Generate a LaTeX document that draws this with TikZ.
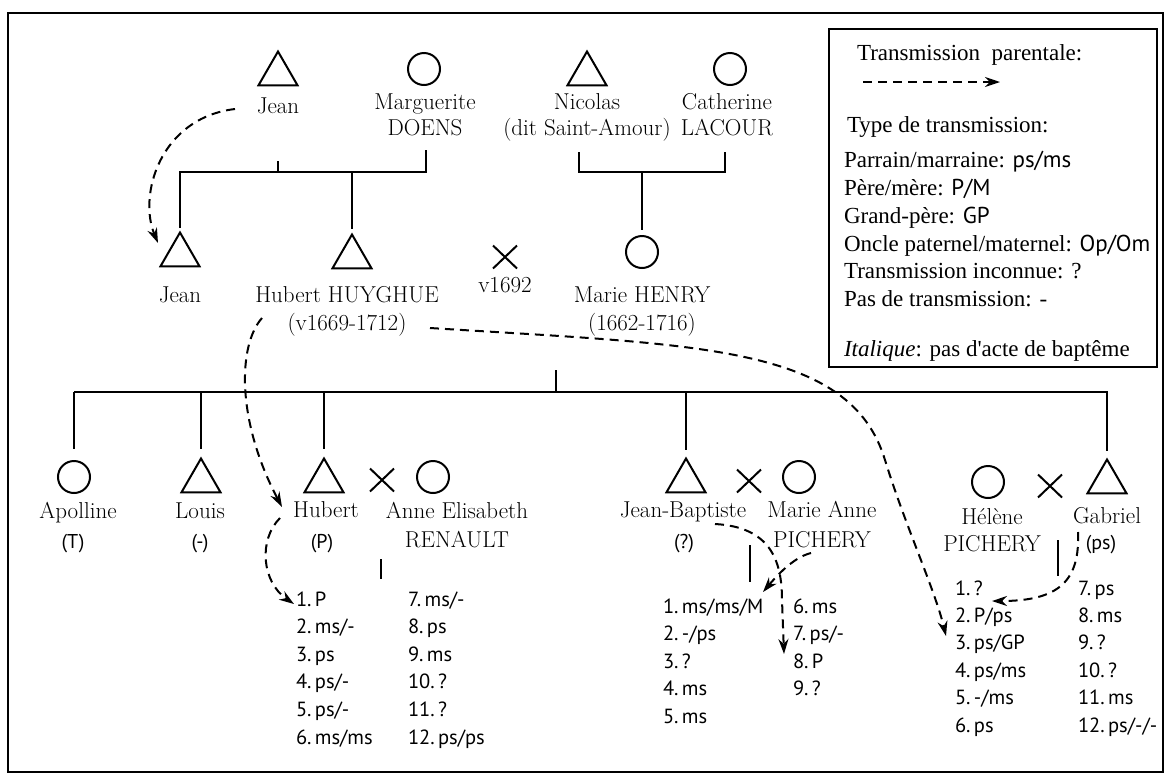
\documentclass[tikz,border=0pt]{standalone}
\usepackage{fontspec}
\newfontfamily\legfont{Liberation Serif}
\newfontfamily\sansf{PT Sans}
\usetikzlibrary{shapes.geometric,shapes.misc,arrows.meta}
\begin{document}
\begin{tikzpicture}[x=1pt,y=-1pt,
  every node/.style={inner sep=0pt, outer sep=0pt},
  tri/.style={draw, regular polygon, regular polygon sides=3, minimum size=45pt, line width=2pt},
  fem/.style={draw, circle, minimum size=32pt, line width=2pt},
  mar/.style={draw, cross out, minimum width=24pt, minimum height=23pt, line width=2pt},
  nm/.style={font=\fontsize{23}{25}\selectfont, anchor=base},
  sub/.style={font=\sansf\fontsize{20}{25}\selectfont, anchor=base},
  lst/.style={font=\sansf\fontsize{20.5}{27}\selectfont, anchor=base west},
  leg/.style={font=\legfont\fontsize{23}{27}\selectfont, anchor=base west},
  line/.style={line width=2pt},
  trans/.style={line width=2pt, dash pattern=on 9pt off 6pt, -{Stealth[length=15pt,width=10pt]}},
]
\useasboundingbox (0,0) rectangle (1170,780);
% frame
\coordinate (fA) at (8,13); \coordinate (fB) at (1163,772);
\draw[line width=2.4pt] (fA) rectangle (fB);

% legend
\coordinate (lA) at (829,29); \coordinate (lB) at (1157,367);
\draw[line width=2pt] (lA) rectangle (lB);
\node[leg] (l1) at (857,60) {Transmission\ \ parentale:};
\coordinate (la) at (863,82); \coordinate (lb) at (1000,82);
\draw[trans] (la) -- (lb);
\node[leg] (l2) at (847,132) {Type de transmission:};
\node[leg] (l3) at (844,167) {Parrain/marraine: {\sansf ps/ms}};
\node[leg] (l4) at (844,195) {Père/mère: {\sansf P/M}};
\node[leg] (l5) at (844,223) {Grand-père: {\sansf GP}};
\node[leg] (l6) at (844,251) {Oncle paternel/maternel: {\sansf Op/Om}};
\node[leg] (l7) at (844,278) {Transmission inconnue: ?};
\node[leg] (l8) at (844,306) {Pas de transmission: -};
\node[leg] (l9) at (844,356) {\textit{Italique}: pas d\textquotesingle acte de baptême};

% generation 1
\node[tri] (jean1) at (278,74) {};
\node[nm] (jean1n) at (278,113) {Jean};
\node[fem] (marg) at (424,69) {};
\node[nm] (margn) at (425,109) {Marguerite};
\node[nm] (margn2) at (425,135) {DOENS};
\node[tri] (nico) at (587,74) {};
\node[nm] (nicon) at (587,109) {Nicolas};
\node[nm] (nicon2) at (587,135) {(dit Saint-Amour)};
\node[fem] (cath) at (730,69) {};
\node[nm] (cathn) at (727,109) {Catherine};
\node[nm] (cathn2) at (727,135) {LACOUR};

% generation 2
\node[tri] (jean2) at (180,255) {};
\node[nm] (jean2n) at (180,302) {Jean};
\node[tri] (hub) at (352,257) {};
\node[nm] (hubn) at (347,302) {Hubert HUYGHUE};
\node[nm] (hubn2) at (347,330) {(v1669-1712)};
\node[mar] (x1) at (505,257) {};
\node[nm] (x1n) at (505,292) {v1692};
\node[fem] (henry) at (642,252) {};
\node[nm] (henryn) at (642,302) {Marie HENRY};
\node[nm] (henryn2) at (642,330) {(1662-1716)};

% gen1 connectors
\coordinate (m1) at (278,161); \coordinate (m1r) at (426,150);
\coordinate (b1L) at (180,172); \coordinate (b1R) at (426,172);
\draw[line] (m1) -- (m1 |- b1L);
\draw[line] (m1r) -- (b1R) -- (b1L) -- ([yshift=5pt]jean2.north);
\draw[line] (b1L -| hub.north) -- ([yshift=6pt]hub.north);
\coordinate (nc1) at (579,152); \coordinate (nc2) at (725,152);
\coordinate (b2L) at (579,172); \coordinate (b2R) at (725,172);
\draw[line] (nc1) -- (b2L) -- (b2R) -- (nc2);
\draw[line] (henry.north |- b2L) -- ([yshift=6pt]henry.north);

% generation 3
\node[fem] (apo) at (74,477) {};
\node[nm] (apon) at (78,518) {Apolline};
\node[sub] (apos) at (73,548) {(T)};
\node[tri] (louis) at (201,481) {};
\node[nm] (louisn) at (200,518) {Louis};
\node[sub] (louiss) at (200,548) {(-)};
\node[tri] (hub3) at (324,481) {};
\node[nm] (hub3n) at (326,517) {Hubert};
\node[sub] (hub3s) at (322,548) {(P)};
\node[mar] (x2) at (382,480) {};
\node[fem] (anne) at (433,477) {};
\node[nm] (annen) at (457,518) {Anne Elisabeth};
\node[nm] (annen2) at (457,547) {RENAULT};
\coordinate (k2a) at (381,559); \coordinate (k2b) at (381,579);
\draw[line] (k2a) -- (k2b);

\node[tri] (jb) at (686,481) {};
\node[nm] (jbn) at (683,517) {Jean-Baptiste};
\node[sub] (jbs) at (684,548) {(?)};
\node[mar] (x3) at (749,481) {};
\node[fem] (ma) at (799,477) {};
\node[nm] (man) at (822,517) {Marie Anne};
\node[nm] (man2) at (822,547) {PICHERY};
\coordinate (k3a) at (750,545); \coordinate (k3b) at (750,582);
\draw[line] (k3a) -- (k3b);

\node[fem] (hel) at (988,482) {};
\node[nm] (heln) at (992,524) {Hélène};
\node[nm] (heln2) at (992,551) {PICHERY};
\node[mar] (x4) at (1050,486) {};
\node[tri] (gab) at (1107,482) {};
\node[nm] (gabn) at (1107,523) {Gabriel};
\node[sub] (gabs) at (1101,549) {(ps)};
\coordinate (k4a) at (1058,540); \coordinate (k4b) at (1058,576);
\draw[line] (k4a) -- (k4b);

% gen2 -> gen3 connectors
\coordinate (m2) at (556,370);
\coordinate (b3L) at (74,392); \coordinate (b3R) at (1108,392);
\draw[line] (m2) -- (m2 |- b3L);
\draw[line] (b3L) -- (b3R);
\draw[line] (apo.north |- b3L) -- ([yshift=12pt]apo.north);
\draw[line] (louis.north |- b3L) -- ([yshift=10pt]louis.north);
\draw[line] (hub3.north |- b3L) -- ([yshift=10pt]hub3.north);
\draw[line] (jb.north |- b3L) -- ([yshift=9pt]jb.north);
\draw[line] (gab.north |- b3L) -- ([yshift=9pt]gab.north);

% lists
\foreach \t [count=\i] in {{1.\,P},{2.\,ms/-},{3.\,ps},{4.\,ps/-},{5.\,ps/-},{6.\,ms/ms}}
  \node[lst] (hA\i) at (296,{606+(\i-1)*27.6}) {\t};
\foreach \t [count=\i] in {{7.\,ms/-},{8.\,ps},{9.\,ms},{10.\,?},{11.\,?},{12.\,ps/ps}}
  \node[lst] (hB\i) at (408,{606+(\i-1)*27.6}) {\t};
\foreach \t [count=\i] in {{1.\,ms/ms/M},{2.\,-/ps},{3.\,?},{4.\,ms},{5.\,ms}}
  \node[lst] (jA\i) at (663,{613+(\i-1)*27.5}) {\t};
\foreach \t [count=\i] in {{6.\,ms},{7.\,ps/-},{8.\,P},{9.\,?}}
  \node[lst] (jB\i) at (793,{613+(\i-1)*27.5}) {\t};
\foreach \t [count=\i] in {{1.\,?},{2.\,P/ps},{3.\,ps/GP},{4.\,ps/ms},{5.\,-/ms},{6.\,ps}}
  \node[lst] (gA\i) at (955,{595+(\i-1)*27.4}) {\t};
\foreach \t [count=\i] in {{7.\,ps},{8.\,ms},{9.\,?},{10.\,?},{11.\,ms},{12.\,ps/-/-}}
  \node[lst] (gB\i) at (1078,{595+(\i-1)*27.4}) {\t};

% transmissions
\coordinate (a1s) at (235,109); \coordinate (a1e) at (158,243);
\draw[trans] (a1s) .. controls (160,118) and (138,195) .. (a1e);
\coordinate (a2s) at (262,318); \coordinate (a2e) at (282,507);
\draw[trans] (a2s) .. controls (238,345) and (236,420) .. (a2e);
\coordinate (a3s) at (280,518); \coordinate (a3e) at (294,604);
\draw[trans] (a3s) .. controls (258,540) and (262,582) .. (a3e);
\coordinate (a4s) at (430,328); \coordinate (a4m) at (885,460); \coordinate (a4e) at (946,636);
\draw[trans] (a4s) .. controls (700,345) and (850,345) .. (a4m) .. controls (905,525) and (935,590) .. (a4e);
\coordinate (a5s) at (715,524); \coordinate (a5m) at (782,600); \coordinate (a5e) at (784,654);
\draw[trans] (a5s) .. controls (770,527) and (782,560) .. (a5m) -- (a5e);
\coordinate (a6s) at (811,553); \coordinate (a6e) at (763,592);
\draw[trans] (a6s) .. controls (795,557) and (780,572) .. (a6e);
\coordinate (a7s) at (1078,532); \coordinate (a7e) at (992,601);
\draw[trans] (a7s) .. controls (1080,580) and (1060,601) .. (a7e);
\end{tikzpicture}
\end{document}
